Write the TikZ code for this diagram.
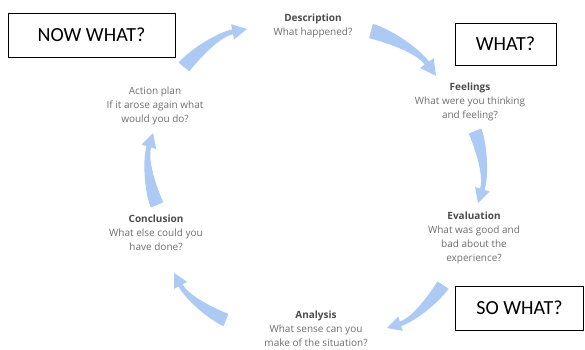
\documentclass[tikz,border=0pt]{standalone}
\usepackage{fontspec}
\setmainfont{Open Sans}
\newfontfamily\boxfont{Carlito}
\usetikzlibrary{calc}
\definecolor{arrowblue}{RGB}{172,202,243}
\definecolor{headgray}{RGB}{75,75,75}
\definecolor{bodygray}{RGB}{110,110,110}
\tikzset{
  cycarrow/.pic={\fill[arrowblue] (-2.37,-6.59) .. controls (12.7,-12.0) and (46.7,-12.9) .. (61.75,-7.45) -- (63.6,-12.6) -- (75,0) -- (58.2,2.4) -- (60.05,-2.75) .. controls (45.9,-7.8) and (16.5,1.5) .. (2.37,6.59) -- cycle;},
  stage/.style={align=center, anchor=north, inner sep=0pt, text=bodygray, font=\fontsize{10}{14}\selectfont},
  labelbox/.style={draw, line width=0.8pt, inner sep=0pt, font=\boxfont\fontsize{20}{24}\selectfont},
}
\newcommand\cycarrowbetween[2]{\path let \p1=($(#2)-(#1)$), \n1={atan2(\y1,\x1)}, \n2={veclen(\x1,\y1)/75} in (#1) pic[rotate=\n1, scale=\n2]{cycarrow};}
\begin{document}
\begin{tikzpicture}[x=1pt,y=-1pt]
\useasboundingbox (0,0) rectangle (585,349);
% labels
\node[labelbox, minimum width=167pt, minimum height=44pt] (now) at (91.5,35) {NOW WHAT?};
\node[labelbox, minimum width=101pt, minimum height=42pt] (what) at (505.5,44) {WHAT?};
\node[labelbox, minimum width=128pt, minimum height=44pt] (sowhat) at (519.5,308) {SO WHAT?};
% stages
\node[stage] (desc) at (313,13.5) {\textcolor{headgray}{\bfseries Description}\\What happened?};
\node[stage] (feel) at (470,82.5) {\textcolor{headgray}{\bfseries Feelings}\\What were you thinking\\and feeling?};
\node[stage] (eval) at (474,211.5) {\textcolor{headgray}{\bfseries Evaluation}\\What was good and\\bad about the\\experience?};
\node[stage] (anal) at (316,311) {\textcolor{headgray}{\bfseries Analysis}\\What sense can you\\make of the situation?};
\node[stage] (conc) at (156,214.5) {\textcolor{headgray}{\bfseries Conclusion}\\What else could you\\have done?};
\node[stage] (act) at (155,86.5) {Action plan\\If it arose again what\\would you do?};
% arrow ends
\coordinate (t1) at (184,67);  \coordinate (h1) at (247,29);
\coordinate (t2) at (371,31);  \coordinate (h2) at (436,76);
\coordinate (t3) at (475,131); \coordinate (h3) at (478,203);
\coordinate (t4) at (443,285); \coordinate (h4) at (387,328);
\coordinate (t5) at (226,320); \coordinate (h5) at (174,273);
\coordinate (t6) at (157,205); \coordinate (h6) at (153,133);
\cycarrowbetween{t1}{h1}
\cycarrowbetween{t2}{h2}
\cycarrowbetween{t3}{h3}
\cycarrowbetween{t4}{h4}
\cycarrowbetween{t5}{h5}
\cycarrowbetween{t6}{h6}
\end{tikzpicture}
\end{document}
